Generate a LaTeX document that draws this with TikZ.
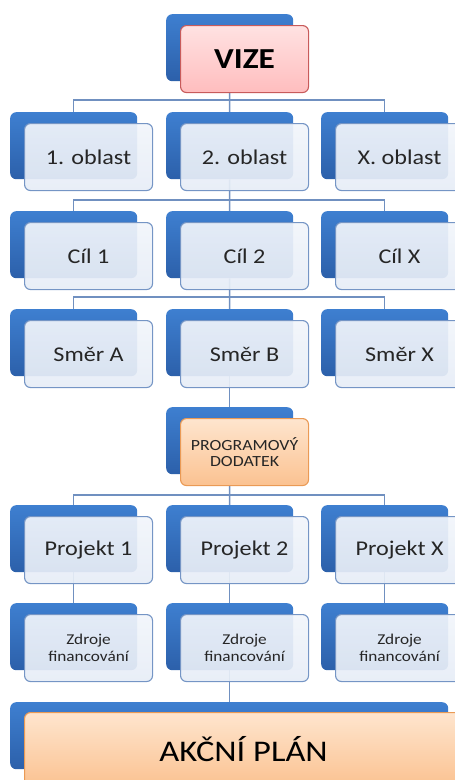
\documentclass[tikz,border=0pt]{standalone}
\usepackage{fontspec}
\setmainfont{Carlito}[FakeStretch=1.15]
\definecolor{backtop}{HTML}{3E7FD0}
\definecolor{backbot}{HTML}{2C60AA}
\definecolor{paletop}{HTML}{F2F5FB}
\definecolor{palebot}{HTML}{E6EDF6}
\definecolor{paleline}{HTML}{7595C5}
\definecolor{pinktop}{HTML}{FFE2E2}
\definecolor{pinkbot}{HTML}{FFBDBE}
\definecolor{pinkline}{HTML}{C85B5B}
\definecolor{peachtop}{HTML}{FEE5CE}
\definecolor{peachbot}{HTML}{FBC291}
\definecolor{peachline}{HTML}{EA9A55}
\definecolor{linkc}{HTML}{7090C0}
\definecolor{txt}{HTML}{262626}
\tikzset{
  back/.style={rounded corners=6pt, minimum width=127pt, minimum height=67pt,
    anchor=north west, inner sep=0pt, top color=backtop, bottom color=backbot},
  front/.style={rounded corners=6pt, minimum width=128pt, minimum height=67pt,
    anchor=north west, inner sep=0pt, draw=paleline, line width=1.1pt,
    top color=paletop, bottom color=palebot, fill opacity=0.92, text opacity=1,
    align=center, text=txt, font=\fontsize{21}{25}\selectfont},
  small/.style={font=\fontsize{15}{17}\selectfont},
  pink/.style={draw=pinkline, top color=pinktop, bottom color=pinkbot, fill opacity=1,
    text=black, font=\fontsize{29}{33}\selectfont\bfseries},
  peach/.style={draw=peachline, top color=peachtop, bottom color=peachbot, fill opacity=1},
  link/.style={draw=linkc, line width=1.5pt},
}
% one chart item: blue card behind, light card in front
% #1 name, #2 x, #3 y of the back card's top-left, #4 extra front style, #5 text
\newcommand\chartitem[5]{%
  \node[back] (#1b) at (#2,#3) {};
  \node[front,#4] (#1) at (#2+14,#3+11) {#5};}
\pgfdeclarelayer{links}
\pgfsetlayers{links,main}
\begin{document}
\begin{tikzpicture}[x=1pt,y=-1pt]
\useasboundingbox (0,0) rectangle (455,780);

\chartitem{vize}{166}{14}{pink}{VIZE}

\chartitem{ob1}{10}{112}{}{1. oblast}
\chartitem{ob2}{166}{112}{}{2. oblast}
\chartitem{ob3}{321}{112}{}{X. oblast}

\chartitem{ci1}{10}{211}{}{Cíl 1}
\chartitem{ci2}{166}{211}{}{Cíl 2}
\chartitem{ci3}{321}{211}{}{Cíl X}

\chartitem{sm1}{10}{309}{}{Směr A}
\chartitem{sm2}{166}{309}{}{Směr B}
\chartitem{sm3}{321}{309}{}{Směr X}

\chartitem{prog}{166}{407}{peach,text=txt,font=\fontsize{15.5}{16}\selectfont}{PROGRAMOVÝ\\DODATEK}

\chartitem{pr1}{10}{505}{}{Projekt 1}
\chartitem{pr2}{166}{505}{}{Projekt 2}
\chartitem{pr3}{321}{505}{}{Projekt X}

\chartitem{zd1}{10}{603}{small}{Zdroje\\financování}
\chartitem{zd2}{166}{603}{small}{Zdroje\\financování}
\chartitem{zd3}{321}{603}{small}{Zdroje\\financování}

\node[back, minimum width=438pt] (akb) at (10,702) {};
\node[front, peach, minimum width=438pt, minimum height=74pt, text=black,
  font=\fontsize{30}{34}\selectfont] (ak) at (24,712) {AKČNÍ PLÁN};

\coordinate (bus1) at (229.5,100);
\coordinate (bus2) at (229.5,200);
\coordinate (bus3) at (229.5,297);
\coordinate (bus4) at (229.5,495);

\begin{pgfonlayer}{links}
  \draw[link] (vizeb) -- (bus1);
  \draw[link] (ob1b.north) |- (bus1) -| (ob3b.north);
  \draw[link] (bus1) -- (ob2b.north);

  \draw[link] (ob2b) -- (bus2);
  \draw[link] (ci1b.north) |- (bus2) -| (ci3b.north);
  \draw[link] (bus2) -- (ci2b.north);

  \draw[link] (ci2b) -- (bus3);
  \draw[link] (sm1b.north) |- (bus3) -| (sm3b.north);
  \draw[link] (bus3) -- (sm2b.north);

  \draw[link] (sm2b) -- (progb);

  \draw[link] (progb) -- (bus4);
  \draw[link] (pr1b.north) |- (bus4) -| (pr3b.north);
  \draw[link] (bus4) -- (pr2b.north);

  \draw[link] (pr1b) -- (zd1b);
  \draw[link] (pr2b) -- (zd2b);
  \draw[link] (pr3b) -- (zd3b);

  \draw[link] (zd2b) -- (zd2b |- akb.north);
\end{pgfonlayer}
\end{tikzpicture}
\end{document}
